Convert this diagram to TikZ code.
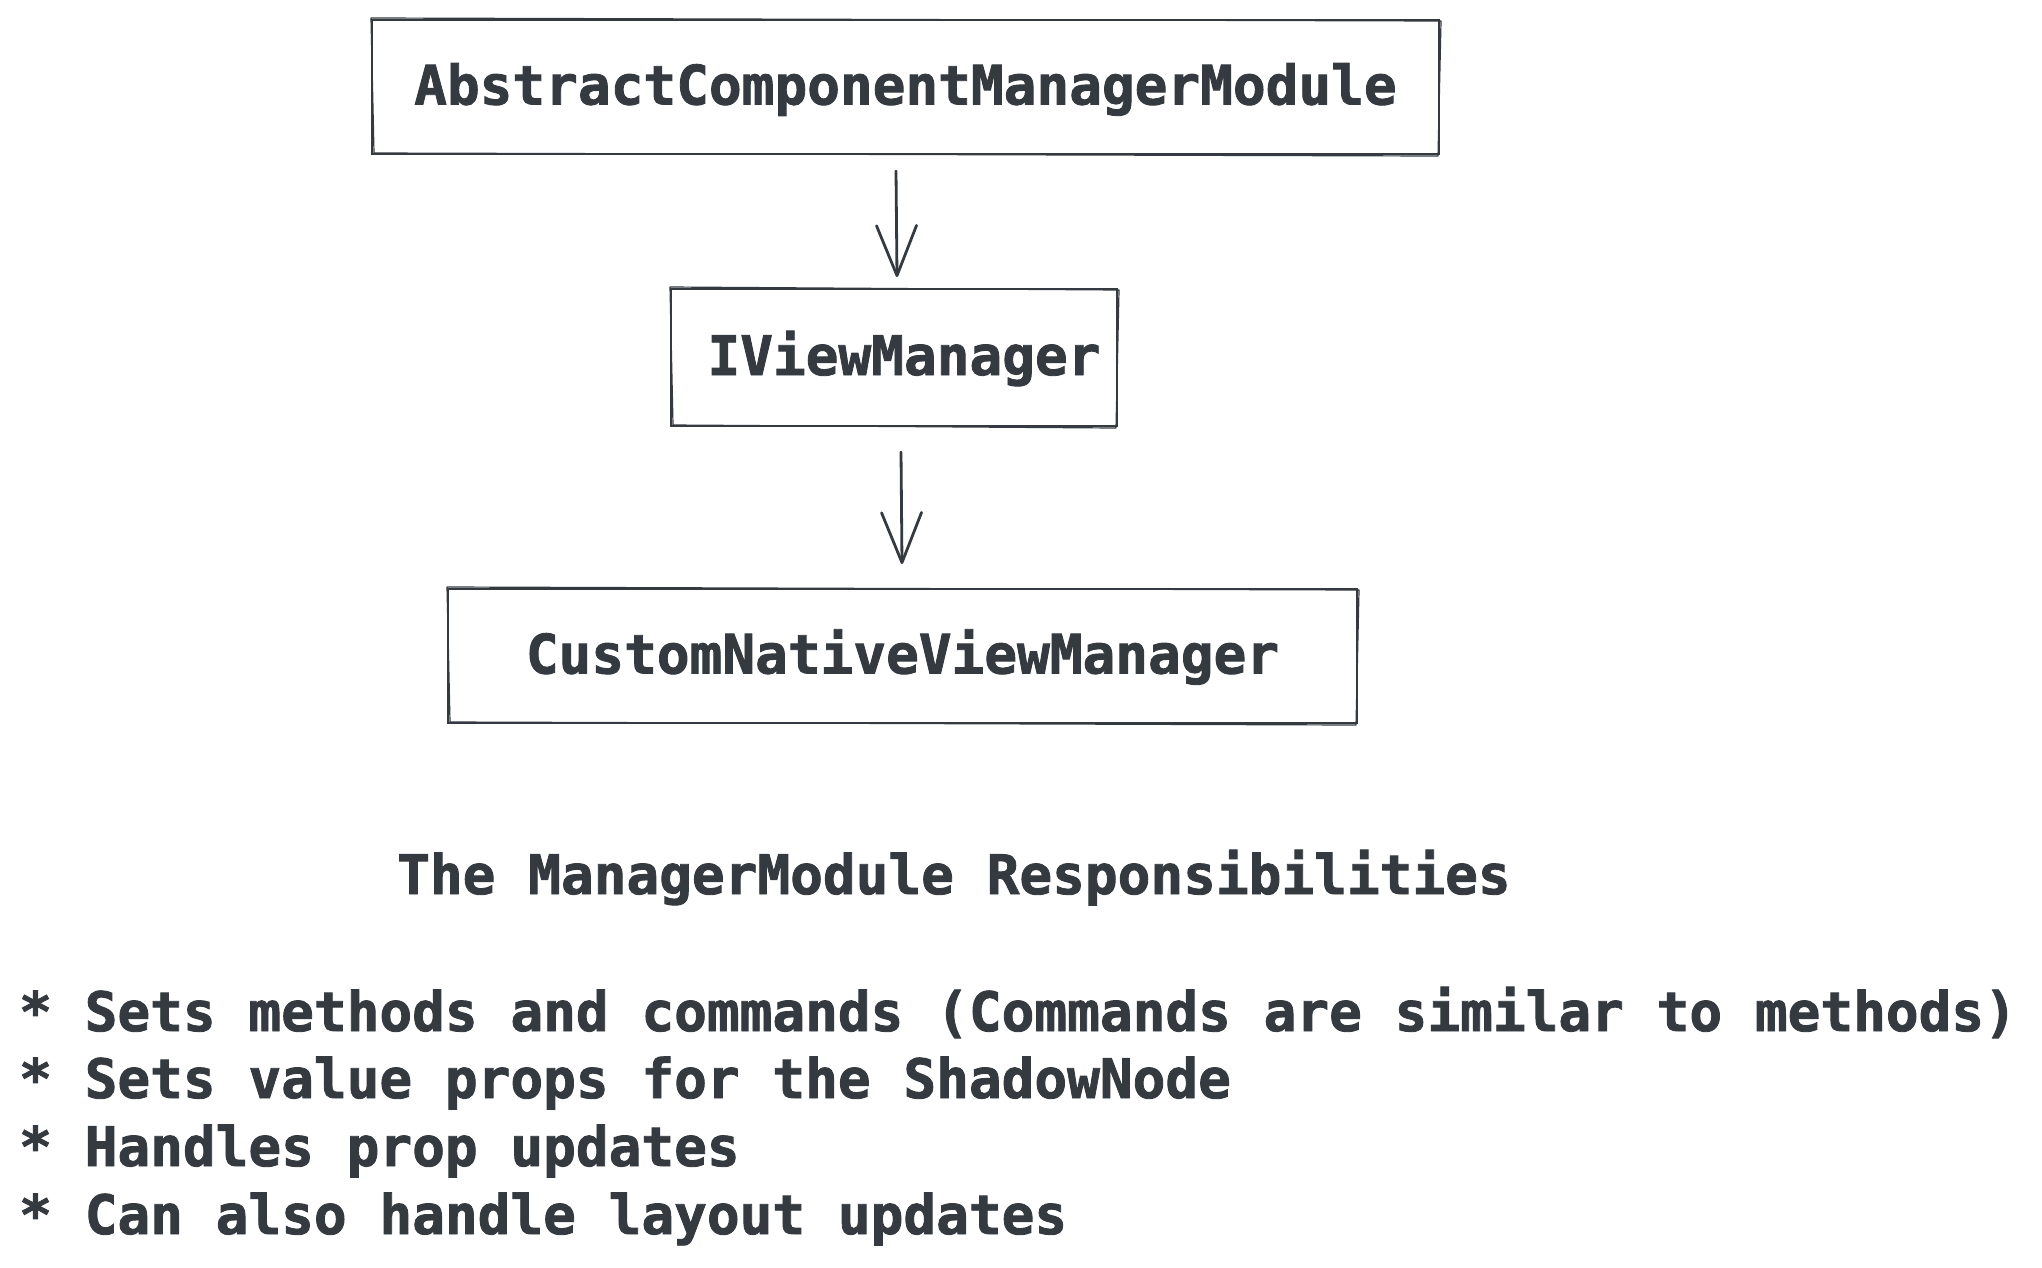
\documentclass[tikz,border=0pt]{standalone}
\usepackage{fontspec}
\setmainfont{DejaVu Sans Mono}[FakeBold=1.6]
\usetikzlibrary{arrows.meta,calc}
\definecolor{ink}{RGB}{52,58,64}
\newcommand{\roughbox}[1]{%
  \draw[rough] ($(#1.north west)+(-1,-2)$) -- ($(#1.north east)+(2,1)$) -- ($(#1.south east)+(-1,2)$) -- ($(#1.south west)+(2,-1)$) -- cycle;}
\begin{document}
\begin{tikzpicture}[x=1pt,y=-1pt,
  txt/.style={font=\fontsize{54.4}{67.7}\selectfont\bfseries, text=ink},
  box/.style={txt, draw=ink, line width=2.9pt, inner sep=0pt, outer sep=0pt,
              text height=47pt, text depth=12pt},
  rough/.style={draw=ink, line width=1.2pt, line join=round},
  arr/.style={draw=ink, line width=2.8pt, line cap=round,
              -{Straight Barb[length=50pt,width=40pt,line cap=round,line join=round]}},
  line/.style={txt, anchor=base west, inner sep=0pt}]
\useasboundingbox[fill=white] (0,0) rectangle (2042,1267);

\node[box, minimum width=1067pt, minimum height=134pt] (a) at (905.5,87) {AbstractComponentManagerModule};
\node[box, minimum width=446pt, minimum height=137pt] (b) at (894,357.5) {\hspace*{20pt}IViewManager};
\node[box, minimum width=909pt, minimum height=134pt] (c) at (902.5,656) {CustomNativeViewManager};
\roughbox{a}
\roughbox{b}
\roughbox{c}

\draw[arr] ($(a.south)+(-9.5,17)$) -- ($(b.north)+(3,-12)$);
\draw[arr] ($(b.south)+(7,26)$) -- ($(c.north)+(-0.5,-25)$);

\node[line] (t) at (397,894) {The ManagerModule Responsibilities};
\node[line] (l1) at (19,1031) {* Sets methods and commands (Commands are similar to methods)};
\node[line] (l2) at (19,1098) {* Sets value props for the ShadowNode};
\node[line] (l3) at (19,1166) {* Handles prop updates};
\node[line] (l4) at (19,1234) {* Can also handle layout updates};
\end{tikzpicture}
\end{document}
